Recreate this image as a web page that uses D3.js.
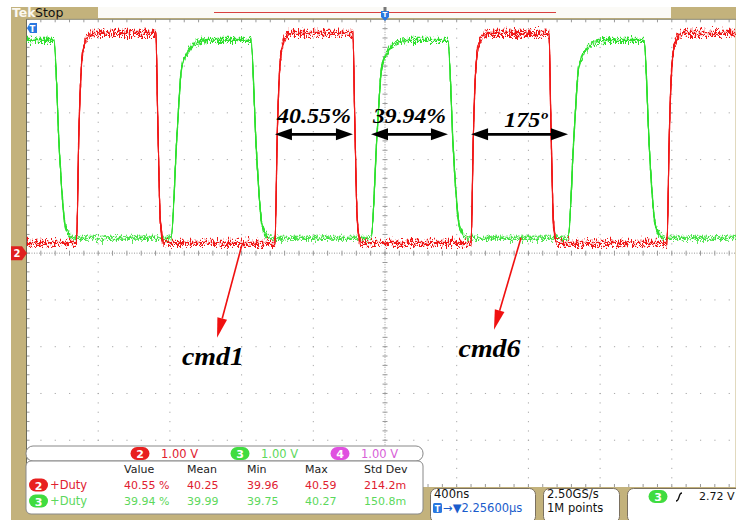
<!DOCTYPE html>
<html><head><meta charset="utf-8">
<script src="https://cdn.jsdelivr.net/npm/d3@7"></script>
<style>body{margin:0;background:#fff}svg{display:block}</style>
</head><body>
<svg id="c" width="736" height="520"></svg>
<script>
// ---------------- data ----------------
const timeDomain = [-2000, 2000];          // ns  (400 ns/div, 10 div)
const voltDomain = [-5, 5];                // V   (1.00 V/div, 10 div)
const timeTicks = d3.range(-2000, 2001, 400);
const voltTicks = d3.range(-5, 6, 1);

const ch2Low = 0.21, ch2High = 4.70;       // red trace levels (V)
const ch3Low = 0.32, ch3High = 4.55;       // green trace levels (V)
const ch2Edges = [-1721, -1278, -614, -179, 480, 915, 1573];   // starts low: rise, fall, ...
const ch3Edges = [-1847, -1194, -748, -78, 351, 1021, 1445];   // starts high: fall, rise, ...
// edge profiles: [ns after edge, fraction of swing]
const ch2Rise = [[0,0],[13,0.52],[32,0.89],[58,0.98],[97,1]];
const ch2Fall = [[0,1],[10,0.6],[25,0.1],[45,0]];
const ch3Rise = [[0,0],[34,0.53],[60,0.865],[99,0.95],[150,0.99],[210,1]];
const ch3Fall = [[0,1],[30,0.45],[60,0.08],[85,0.02],[120,0]];

const scaleLabels = ["1.00 V", "1.00 V", "1.00 V"];
const scaleChannels = ["2", "3", "4"];
const measHeaders = ["Value", "Mean", "Min", "Max", "Std Dev"];
const measCh2 = ["40.55 %", "40.25", "39.96", "40.59", "214.2m"];
const measCh3 = ["39.94 %", "39.99", "39.75", "40.27", "150.8m"];
const measName = "+Duty";
const timebase = "400ns";
const trigPos = "\u2192\u25BC2.25600\u00B5s";
const sampleRate = "2.50GS/s";
const recordLen = "1M points";
const trigLevel = "2.72 V";

// annotations (time ns, volts)
const spanArrows = [
  {t0: ch2Edges[2], t1: ch2Edges[3], v: 2.54, label: "40.55%", dt: 0, lv: 2.78, w: 74},
  {t0: ch3Edges[3], t1: ch3Edges[4], v: 2.54, label: "39.94%", dt: 0, lv: 2.78, w: 73},
  {t0: ch2Edges[4], t1: ch3Edges[5], v: 2.54, label: "175\u00BA", dt: 35, lv: 2.70, w: 43}
];
const pointers = [
  {label: "cmd1", t0: -798, v0: 0.18, t1: -937, v1: -1.81, lt: -960, lv: -2.39},
  {label: "cmd6", t0: 759, v0: 0.33, t1: 608, v1: -1.64, lt: 583, lv: -2.22}
];

// ---------------- layout ----------------
const TAN = "#c3b27c";
const RED = "#f01818", GREEN = "#2ee02e";
const svg = d3.select("#c");
const X0 = 26.5, X1 = 743.5, Y0 = 19.3, Y1 = 487;
const x = d3.scaleLinear().domain(timeDomain).range([X0, X1]);
const y = d3.scaleLinear().domain(voltDomain).range([Y1, Y0]);
const divW = (X1 - X0) / 10, divH = (Y1 - Y0) / 10;
const FONT = "DejaVu Sans, sans-serif";

const defs = svg.append("defs");
function noiseFilter(id, seed, scale, fy) {
  const f = defs.append("filter").attr("id", id).attr("filterUnits", "userSpaceOnUse")
    .attr("x", 0).attr("y", 0).attr("width", 736).attr("height", 520)
    .attr("color-interpolation-filters", "sRGB");
  f.append("feTurbulence").attr("type", "fractalNoise").attr("baseFrequency", `0.8 ${fy}`)
    .attr("numOctaves", 2).attr("seed", seed).attr("result", "t");
  f.append("feColorMatrix").attr("in", "t").attr("type", "matrix")
    .attr("values", "0 0 0 0 0.5  1 0 0 0 0  0 0 0 0 0  0 0 0 0 1").attr("result", "m");
  f.append("feDisplacementMap").attr("in", "SourceGraphic").attr("in2", "m")
    .attr("scale", scale).attr("xChannelSelector", "R").attr("yChannelSelector", "G");
}
[3, 7, 11, 17].forEach((s, i) => { noiseFilter("r" + i, s, 19, 0.12); noiseFilter("g" + i, s + 20, 14, 0.12); });
defs.append("clipPath").attr("id", "plot").append("rect")
  .attr("x", X0).attr("y", Y0).attr("width", X1 - X0).attr("height", Y1 - Y0);

// frame
svg.append("rect").attr("x", 11).attr("y", 7).attr("width", 725).attr("height", 513).attr("fill", TAN);
svg.append("rect").attr("x", X0 - 0.5).attr("y", Y0).attr("width", 736 - X0).attr("height", Y1 - Y0).attr("fill", "#fff");
svg.append("rect").attr("x", 98).attr("y", 7).attr("width", 573).attr("height", 11).attr("fill", "#fbfaf6");
svg.append("line").attr("x1", 214).attr("x2", 556).attr("y1", 12.5).attr("y2", 12.5).attr("stroke", "#d84040").attr("stroke-width", 1);
svg.append("text").attr("x", 12).attr("y", 17).attr("font-family", FONT).attr("font-size", 12.5)
  .attr("font-weight", "bold").attr("fill", "#fbf8f0").text("Tek");
svg.append("text").attr("x", 35).attr("y", 17).attr("font-family", FONT).attr("font-size", 12.5)
  .attr("fill", "#111").text("Stop");

// graticule
const g = svg.append("g");
const dotC = "#a8a8a8";
timeTicks.slice(1, -1).forEach(t => {
  if (t === 0) return;
  d3.range(0, 51).forEach(j => g.append("rect").attr("x", x(t) - 0.5).attr("y", Y0 + j * divH / 5 - 0.5)
    .attr("width", 1).attr("height", 1.2).attr("fill", dotC));
});
voltTicks.slice(1, -1).forEach(v => {
  if (v === 0) return;
  d3.range(0, 51).forEach(j => g.append("rect").attr("x", X0 + j * divW / 5 - 0.5).attr("y", y(v) - 0.5)
    .attr("width", 1.2).attr("height", 1).attr("fill", dotC));
});
// center cross
g.append("line").attr("x1", x(0)).attr("x2", x(0)).attr("y1", Y0).attr("y2", Y1)
  .attr("stroke", "#999").attr("stroke-dasharray", "1,1.5");
g.append("line").attr("x1", X0).attr("x2", 736).attr("y1", y(0)).attr("y2", y(0))
  .attr("stroke", "#999").attr("stroke-dasharray", "1,1.5");
d3.range(0, 51).forEach(j => {
  const yy = Y0 + j * divH / 5, xx = X0 + j * divW / 5;
  g.append("line").attr("x1", x(0) - 2.5).attr("x2", x(0) + 2.5).attr("y1", yy).attr("y2", yy).attr("stroke", "#999");
  g.append("line").attr("y1", y(0) - 2.5).attr("y2", y(0) + 2.5).attr("x1", xx).attr("x2", xx).attr("stroke", "#999");
  g.append("line").attr("x1", xx).attr("x2", xx).attr("y1", Y0).attr("y2", Y0 + 3).attr("stroke", "#999");
  g.append("line").attr("x1", xx).attr("x2", xx).attr("y1", Y1 - 3).attr("y2", Y1).attr("stroke", "#999");
  g.append("line").attr("x1", X0).attr("x2", X0 + 3).attr("y1", yy).attr("y2", yy).attr("stroke", "#999");
});
g.append("line").attr("x1", X0).attr("x2", 736).attr("y1", Y0).attr("y2", Y0).attr("stroke", "#8a8a7a");
g.append("line").attr("x1", X0).attr("x2", X0).attr("y1", Y0).attr("y2", Y1).attr("stroke", "#6a6a5a");

// traces
function buildTrace(edges, startHigh, lo, hi, riseP, fallP) {
  const pts = [[timeDomain[0], startHigh ? hi : lo]];
  let high = startHigh;
  edges.forEach(e => {
    const prof = high ? fallP : riseP;
    prof.forEach(([dt, f]) => pts.push([e + dt, lo + f * (hi - lo)]));
    high = !high;
  });
  pts.push([timeDomain[1], high ? hi : lo]);
  return pts;
}
const line = d3.line().x(d => x(d[0])).y(d => y(d[1])).curve(d3.curveMonotoneX);
const traces = svg.append("g").attr("clip-path", "url(#plot)");
const ch3Pts = buildTrace(ch3Edges, true, ch3Low, ch3High, ch3Rise, ch3Fall);
const ch2Pts = buildTrace(ch2Edges, false, ch2Low, ch2High, ch2Rise, ch2Fall);
[0, 1, 2, 3].forEach(i => traces.append("path").datum(ch3Pts).attr("d", line).attr("fill", "none")
  .attr("stroke", GREEN).attr("stroke-width", 1.1).attr("filter", `url(#g${i})`));
[0, 1, 2, 3].forEach(i => traces.append("path").datum(ch2Pts).attr("d", line).attr("fill", "none")
  .attr("stroke", RED).attr("stroke-width", 1.1).attr("filter", `url(#r${i})`));

// markers
const cx = x(0);
svg.append("rect").attr("x", cx - 1.5).attr("y", 7).attr("width", 3).attr("height", 6).attr("fill", "#777");
svg.append("path").attr("d", `M${cx-4},11 h8 v6 l-4,4 l-4,-4 z`).attr("fill", "#2a78e0");
svg.append("text").attr("x", cx).attr("y", 17).attr("text-anchor", "middle").attr("font-family", FONT)
  .attr("font-size", 7).attr("font-weight", "bold").attr("fill", "#fff").text("T");
svg.append("path").attr("d", "M27,28 l3,-5 h7 v10 h-7 z").attr("fill", "#2a78e0");
svg.append("text").attr("x", 32.5).attr("y", 31.5).attr("text-anchor", "middle").attr("font-family", FONT)
  .attr("font-size", 8.5).attr("font-weight", "bold").attr("fill", "#fff").text("T");
svg.append("path").attr("d", `M11,${y(0)-7} h11 l5,7 l-5,7 h-11 z`).attr("fill", "#e02020");
svg.append("text").attr("x", 17).attr("y", y(0) + 4).attr("text-anchor", "middle").attr("font-family", FONT)
  .attr("font-size", 10).attr("font-weight", "bold").attr("fill", "#fff").text("2");

// annotations
const ann = svg.append("g");
function dArrow(xa, xb, yy) {
  ann.append("line").attr("x1", xa + 10).attr("x2", xb - 10).attr("y1", yy).attr("y2", yy)
    .attr("stroke", "#000").attr("stroke-width", 2.6);
  ann.append("path").attr("d", `M${xa},${yy} l17,-6 v12 z`).attr("fill", "#000");
  ann.append("path").attr("d", `M${xb},${yy} l-17,-6 v12 z`).attr("fill", "#000");
}
spanArrows.forEach(a => {
  dArrow(x(a.t0), x(a.t1), y(a.v));
  ann.append("text").attr("x", x((a.t0 + a.t1) / 2 + a.dt)).attr("y", y(a.lv)).attr("text-anchor", "middle")
    .attr("font-family", "Liberation Serif, serif").attr("font-weight", "bold").attr("font-style", "italic")
    .attr("font-size", 22).attr("fill", "#000").attr("textLength", a.w).attr("lengthAdjust", "spacingAndGlyphs")
    .text(a.label);
});
pointers.forEach(p => {
  const xa = x(p.t0), ya = y(p.v0), xb = x(p.t1), yb = y(p.v1);
  const ang = Math.atan2(yb - ya, xb - xa);
  const L = 20, W = 5;
  const bx = xb - L * Math.cos(ang), by = yb - L * Math.sin(ang);
  ann.append("line").attr("x1", xa).attr("y1", ya).attr("x2", bx).attr("y2", by)
    .attr("stroke", "#f01010").attr("stroke-width", 1.6);
  ann.append("path").attr("d", `M${xb},${yb} L${bx - W * Math.sin(ang)},${by + W * Math.cos(ang)} L${bx + W * Math.sin(ang)},${by - W * Math.cos(ang)} Z`)
    .attr("fill", "#f01010");
  ann.append("text").attr("x", x(p.lt)).attr("y", y(p.lv)).attr("text-anchor", "middle")
    .attr("font-family", "Liberation Serif, serif").attr("font-weight", "bold").attr("font-style", "italic")
    .attr("font-size", 25).attr("fill", "#000").attr("textLength", 62).attr("lengthAdjust", "spacingAndGlyphs")
    .text(p.label);
});

// bottom band
svg.append("rect").attr("x", 424).attr("y", Y1).attr("width", 312).attr("height", 33).attr("fill", TAN);
svg.append("rect").attr("x", 11).attr("y", 514).attr("width", 420).attr("height", 6).attr("fill", TAN);

// channel scale row
svg.append("rect").attr("x", X0 - 0.5).attr("y", 446).attr("width", 397).attr("height", 15).attr("rx", 7)
  .attr("fill", "#fff").attr("stroke", "#888");
const pillCols = {"2": "#e82020", "3": "#40dc40", "4": "#e050e0"};
const txtCols = {"2": "#e02030", "3": "#5cd85c", "4": "#d860d8"};
function pill(cxp, cyp, ch) {
  svg.append("rect").attr("x", cxp - 9.5).attr("y", cyp - 6.5).attr("width", 19).attr("height", 13).attr("rx", 6.5)
    .attr("fill", pillCols[ch]);
  svg.append("text").attr("x", cxp).attr("y", cyp + 4.5).attr("text-anchor", "middle").attr("font-family", FONT)
    .attr("font-size", 11).attr("font-weight", "bold").attr("fill", "#fff").text(ch);
}
scaleChannels.forEach((ch, i) => {
  const px = 140 + i * 100;
  pill(px, 453.5, ch);
  svg.append("text").attr("x", px + 21).attr("y", 458).attr("font-family", FONT).attr("font-size", 11.5)
    .attr("fill", txtCols[ch]).text(scaleLabels[i]);
});

// measurement table
svg.append("rect").attr("x", X0 - 0.5).attr("y", 461).attr("width", 397).attr("height", 53).attr("rx", 5)
  .attr("fill", "#fff").attr("stroke", "#888");
const colX = [124, 187, 247, 305, 364];
measHeaders.forEach((h, i) => svg.append("text").attr("x", colX[i]).attr("y", 473).attr("font-family", FONT)
  .attr("font-size", 11).attr("fill", "#222").text(h));
[[measCh2, "2", 489], [measCh3, "3", 505]].forEach(([vals, ch, yy]) => {
  pill(38.5, yy - 4, ch);
  svg.append("text").attr("x", 50).attr("y", yy).attr("font-family", FONT).attr("font-size", 11.5)
    .attr("fill", txtCols[ch]).text(measName);
  vals.forEach((v, i) => svg.append("text").attr("x", colX[i]).attr("y", yy).attr("font-family", FONT)
    .attr("font-size", 11).attr("fill", txtCols[ch]).text(v));
});

// readout boxes
function box(xb, w) {
  svg.append("rect").attr("x", xb).attr("y", 488.5).attr("width", w).attr("height", 34).attr("rx", 6)
    .attr("fill", "#fff").attr("stroke", "#7a7060");
}
box(430.5, 105); box(543.5, 76); box(627.5, 120);
svg.append("text").attr("x", 434).attr("y", 498).attr("font-family", FONT).attr("font-size", 11.5).attr("fill", "#111").text(timebase);
svg.append("rect").attr("x", 433).attr("y", 503).attr("width", 9).attr("height", 10).attr("rx", 1.5).attr("fill", "#2a78e0");
svg.append("text").attr("x", 437.5).attr("y", 511.5).attr("text-anchor", "middle").attr("font-family", FONT)
  .attr("font-size", 8).attr("font-weight", "bold").attr("fill", "#fff").text("T");
svg.append("text").attr("x", 443).attr("y", 512).attr("font-family", FONT).attr("font-size", 11.5).attr("fill", "#1a5ccc").text(trigPos);
svg.append("text").attr("x", 547).attr("y", 498).attr("font-family", FONT).attr("font-size", 11.5).attr("fill", "#111").text(sampleRate);
svg.append("text").attr("x", 547).attr("y", 512).attr("font-family", FONT).attr("font-size", 11.5).attr("fill", "#111").text(recordLen);
pill(658, 496.5, "3");
svg.append("path").attr("d", "M676,501 c2,0 2,-1 3,-4 s1,-4 3,-4").attr("fill", "none").attr("stroke", "#111").attr("stroke-width", 1.4);
svg.append("text").attr("x", 699).attr("y", 500).attr("font-family", FONT).attr("font-size", 11).attr("fill", "#111").text(trigLevel);
</script>
</body></html>
